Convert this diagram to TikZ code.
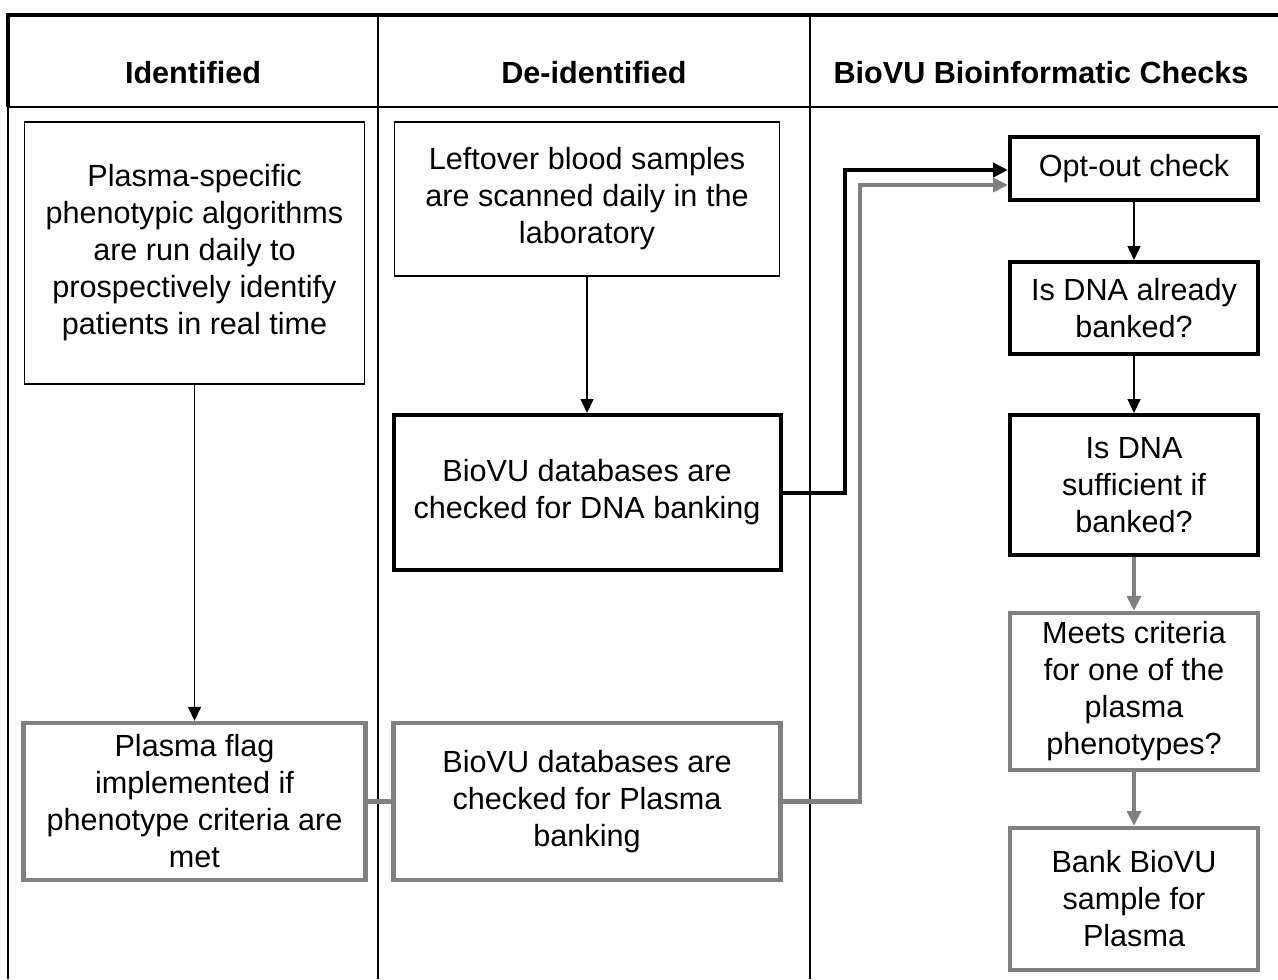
\documentclass[tikz,border=0pt]{standalone}
\usepackage{fontspec}
\setmainfont{Liberation Sans}
\usetikzlibrary{arrows.meta}

\begin{document}
\begin{tikzpicture}[x=0.5pt,y=-0.5pt,
    every node/.style={font=\fontsize{15.3}{18.5}\selectfont, align=center, inner sep=0pt},
    wh/.style 2 args={minimum width=#1*0.5pt, minimum height=#2*0.5pt},
    thinbox/.style={draw, line width=0.75pt},
    boldbox/.style={draw, line width=2pt},
    graybox/.style={draw=gray, line width=2.2pt},
    head/.style={font=\fontsize{15.3}{18.5}\selectfont\bfseries},
    thinarr/.style={line width=0.75pt, -{Triangle[length=7pt,width=6.5pt]}},
    boldarr/.style={line width=2pt, -{Triangle[length=7.5pt,width=7pt]}},
    grayarr/.style={draw=gray, line width=2.2pt, -{Triangle[length=7.5pt,width=7pt]}}]
  \useasboundingbox (0,0) rectangle (1278,979);
  % table frame
  \draw [line width=1.7pt] (8,107) -- (8,15) -- (1278,15);
  \draw [line width=1pt] (8,107) -- (1278,107);
  \draw [line width=0.8pt] (8,107) -- (8,979);
  \draw [line width=0.8pt] (378,15) -- (378,979);
  \draw [line width=0.8pt] (810,15) -- (810,979);
  \node [head] (h1) at (193,73) {Identified};
  \node [head] (h2) at (594,73) {De-identified};
  \node [head] (h3) at (1041,73) {BioVU Bioinformatic Checks};
  % identified
  \node [thinbox, wh={340}{262}] (algo) at (194.5,253) {Plasma-specific\\phenotypic algorithms\\are run daily to\\prospectively identify\\patients in real time};
  \node [graybox, wh={342}{157}] (flag) at (194.5,801.5) {Plasma flag\\implemented if\\phenotype criteria are\\met};
  % de-identified
  \node [thinbox, wh={385}{154}] (scan) at (587,199) {Leftover blood samples\\are scanned daily in the\\laboratory};
  \node [boldbox, wh={387}{155}] (dnacheck) at (587,492.5) {BioVU databases are\\checked for DNA banking};
  \node [graybox, wh={387}{157}] (plasmacheck) at (587,801.5) {BioVU databases are\\checked for Plasma\\banking};
  % checks
  \node [boldbox, wh={248}{63}] (optout) at (1134,168.5) {Opt-out check};
  \node [boldbox, wh={248}{92}] (already) at (1134,308) {Is DNA already\\banked?};
  \node [boldbox, wh={248}{140}] (suff) at (1134,485) {Is DNA\\sufficient if\\banked?};
  \node [graybox, wh={248}{157}] (meets) at (1134,691.5) {Meets criteria\\for one of the\\plasma\\phenotypes?};
  \node [graybox, wh={248}{142}] (bank) at (1134,899) {Bank BioVU\\sample for\\Plasma};
  % connectors
  \draw [thinarr] (algo) -- (flag);
  \draw [thinarr] (scan) -- (dnacheck);
  \draw [draw=gray, line width=2.2pt] (flag) -- (plasmacheck);
  \draw [boldarr] (dnacheck.east) -- ++(62,0) |- ([yshift=-0.75pt]optout.west);
  \draw [grayarr] (plasmacheck.east) -- ++(77,0) |- ([yshift=-8.25pt]optout.west);
  \draw [thinarr] (optout) -- (already);
  \draw [thinarr] (already) -- (suff);
  \draw [grayarr] (suff) -- (meets);
  \draw [grayarr] (meets) -- (bank);
\end{tikzpicture}
\end{document}
